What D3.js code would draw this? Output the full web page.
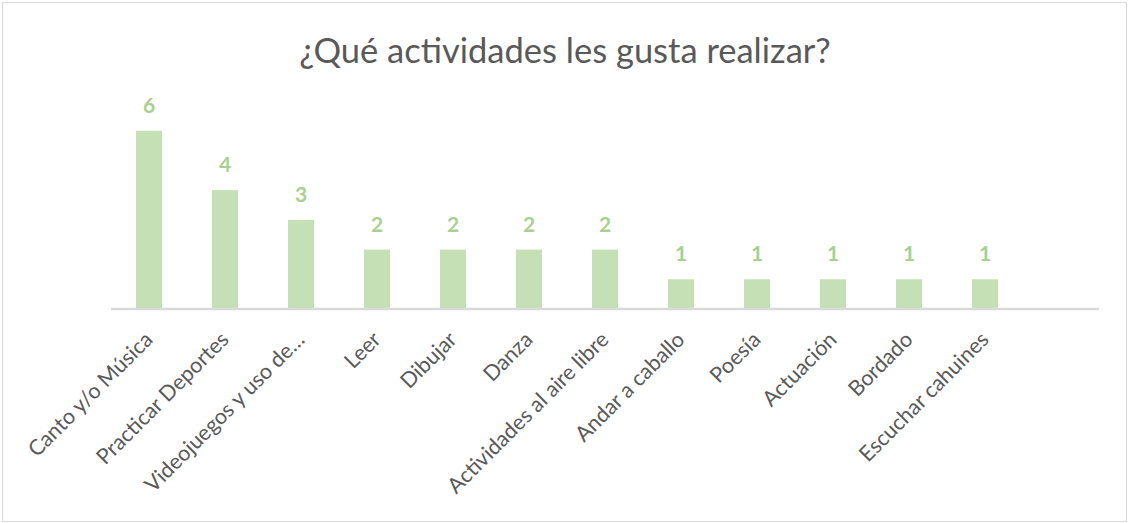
<!DOCTYPE html>
<html>
<head>
<meta charset="utf-8">
<script src="https://cdn.jsdelivr.net/npm/d3@7"></script>
<style>
  body { margin: 0; background: #fff; }
  svg { display: block; font-family: Lato, "Open Sans", sans-serif; }
</style>
</head>
<body>
<div id="chart"></div>
<script>
const categories = [
  "Canto y/o Música", "Practicar Deportes", "Videojuegos y uso de…", "Leer", "Dibujar",
  "Danza", "Actividades al aire libre", "Andar a caballo", "Poesía", "Actuación",
  "Bordado", "Escuchar cahuines", ""
];
const values = [6, 4, 3, 2, 2, 2, 2, 1, 1, 1, 1, 1, null];
const chartTitle = "¿Qué actividades les gusta realizar?";

const width = 1128, height = 523;
const margin = { top: 101, right: 29, bottom: 214, left: 111 };

const svg = d3.select("#chart").append("svg")
  .attr("width", width)
  .attr("height", height);

// chart border
svg.append("rect")
  .attr("x", 2.5).attr("y", 2.5)
  .attr("width", width - 4).attr("height", height - 4)
  .attr("fill", "#fff")
  .attr("stroke", "#d9d9d9");

svg.append("text")
  .attr("x", 565)
  .attr("y", 63)
  .attr("text-anchor", "middle")
  .attr("fill", "#595959")
  .style("font-size", "34.5px")
  .text(chartTitle);

const x = d3.scaleBand()
  .domain(d3.range(categories.length))
  .range([margin.left, width - margin.right])
  .paddingInner(0.658)
  .paddingOuter(0.329);

const y = d3.scaleLinear()
  .domain([0, 7])
  .range([height - margin.bottom, margin.top]);

const data = categories.map((c, i) => ({ i, name: c, value: values[i] }));
const withValue = data.filter(d => d.value != null);

svg.append("g")
  .selectAll("rect")
  .data(withValue)
  .join("rect")
  .attr("x", d => x(d.i))
  .attr("y", d => y(d.value))
  .attr("width", x.bandwidth())
  .attr("height", d => y(0) - y(d.value))
  .attr("fill", "#c5e0b4");

svg.append("g")
  .selectAll("text")
  .data(withValue)
  .join("text")
  .attr("x", d => x(d.i) + x.bandwidth() / 2)
  .attr("y", d => y(d.value) - 18)
  .attr("text-anchor", "middle")
  .attr("fill", "#a9d18e")
  .style("font-size", "21px")
  .style("font-weight", "bold")
  .text(d => d.value);

// category axis
const xAxis = svg.append("g")
  .attr("transform", `translate(0,${y(0)})`)
  .call(d3.axisBottom(x).tickSize(0).tickFormat(i => categories[i]));

xAxis.select(".domain").attr("stroke", "#d9d9d9").attr("stroke-width", 2.5)
  .attr("d", `M${margin.left},0H${width - margin.right}`);

xAxis.selectAll("text")
  .attr("fill", "#595959")
  .style("font-size", "21.5px")
  .style("font-family", "Lato, sans-serif")
  .attr("text-anchor", "end")
  .attr("dy", null)
  .attr("y", 0)
  .attr("transform", "translate(5,32) rotate(-45)");
</script>
</body>
</html>
